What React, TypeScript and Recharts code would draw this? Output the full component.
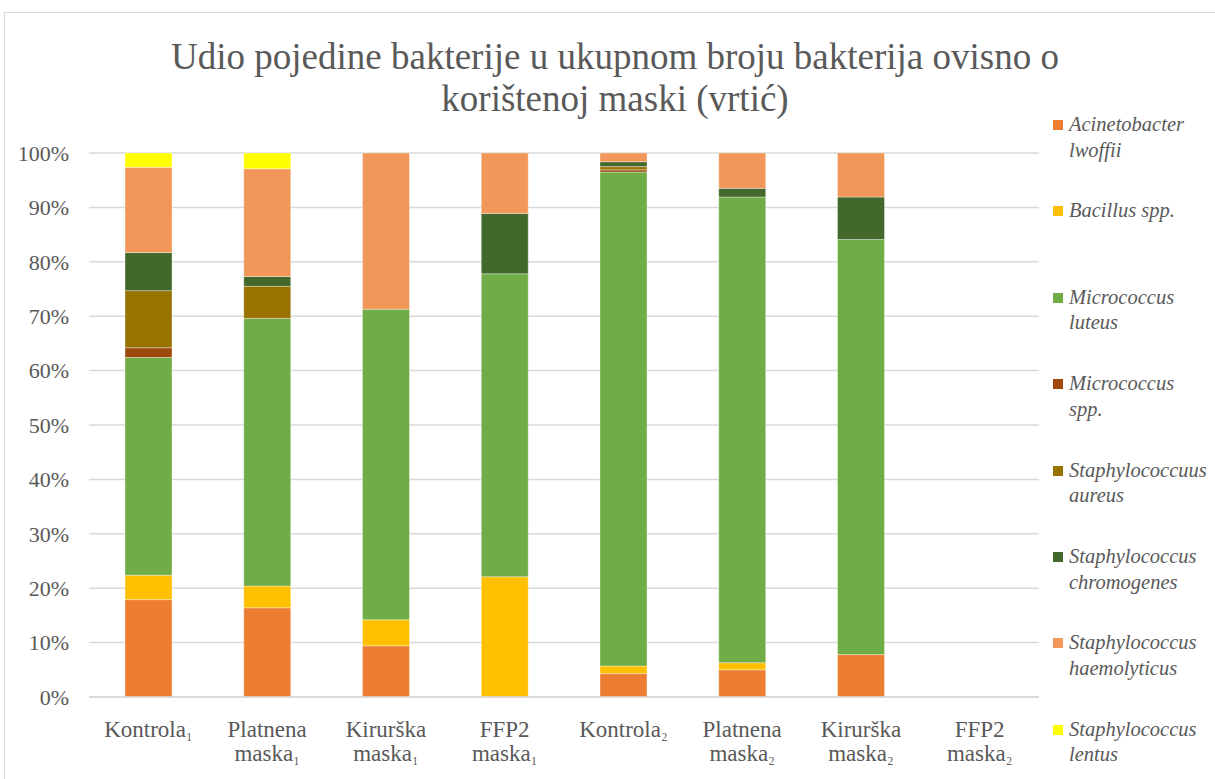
import { BarChart, Bar, XAxis, YAxis, CartesianGrid } from "recharts";

const categories = [
  "Kontrola₁",
  "Platnena maska₁",
  "Kirurška maska₁",
  "FFP2 maska₁",
  "Kontrola₂",
  "Platnena maska₂",
  "Kirurška maska₂",
  "FFP2 maska₂",
];

const acinetobacter = [17.9, 16.4, 9.4, 0, 4.3, 5.0, 7.8, 0];
const bacillus = [4.5, 4.0, 4.8, 22.1, 1.4, 1.3, 0, 0];
const microLuteus = [40.0, 49.2, 57.1, 55.7, 90.8, 85.6, 76.3, 0];
const microSpp = [1.8, 0, 0, 0, 0.4, 0, 0, 0];
const staphAureus = [10.5, 5.9, 0, 0, 0.6, 0, 0, 0];
const staphChromogenes = [7.0, 1.8, 0, 11.1, 0.9, 1.6, 7.8, 0];
const staphHaemolyticus = [15.7, 19.8, 28.7, 11.1, 1.6, 6.5, 8.1, 0];
const staphLentus = [2.6, 2.9, 0, 0, 0, 0, 0, 0];

const yTicks = [0, 10, 20, 30, 40, 50, 60, 70, 80, 90, 100];

const series = [
  { key: "acinetobacter", name: "Acinetobacter lwoffii", lines: ["Acinetobacter", "lwoffii"], color: "#ED7D31", values: acinetobacter },
  { key: "bacillus", name: "Bacillus spp.", lines: ["Bacillus spp."], color: "#FFC000", values: bacillus },
  { key: "microLuteus", name: "Micrococcus luteus", lines: ["Micrococcus", "luteus"], color: "#70AD47", values: microLuteus },
  { key: "microSpp", name: "Micrococcus spp.", lines: ["Micrococcus", "spp."], color: "#9E480E", values: microSpp },
  { key: "staphAureus", name: "Staphylococcuus aureus", lines: ["Staphylococcuus", "aureus"], color: "#997300", values: staphAureus },
  { key: "staphChromogenes", name: "Staphylococcus chromogenes", lines: ["Staphylococcus", "chromogenes"], color: "#43682B", values: staphChromogenes },
  { key: "staphHaemolyticus", name: "Staphylococcus haemolyticus", lines: ["Staphylococcus", "haemolyticus"], color: "#F1975A", values: staphHaemolyticus },
  { key: "staphLentus", name: "Staphylococcus lentus", lines: ["Staphylococcus", "lentus"], color: "#FFFF00", values: staphLentus },
];

const data = categories.map((name, i) => {
  const row: Record<string, string | number> = { name };
  series.forEach((s) => {
    row[s.key] = s.values[i];
  });
  return row;
});

const FONT = 'Liberation Serif, Tinos, "DejaVu Serif", serif';
const TEXT = "#595959";

// splits "Platnena maska₁" into lines, and draws the trailing subscript a bit smaller
const CategoryTick = (props: any) => {
  const { x, y, payload } = props;
  const label: string = payload.value;
  const idx = label.indexOf(" ");
  const parts = idx > 0 ? [label.slice(0, idx), label.slice(idx + 1)] : [label];
  return (
    <text x={x} y={y} textAnchor="middle" fill={TEXT} style={{ fontFamily: FONT }} fontSize={23}>
      {parts.map((p, i) => {
        const last = p.slice(-1);
        const isSub = last === "₁" || last === "₂";
        return (
          <tspan key={i} x={x} y={y + 32 + i * 24}>
            {isSub ? p.slice(0, -1) : p}
            {isSub && <tspan fontSize={19}>{last}</tspan>}
          </tspan>
        );
      })}
    </text>
  );
};

export default function App() {
  return (
    <div
      style={{
        position: "absolute",
        left: 0,
        top: 0,
        width: 1215,
        height: 779,
        overflow: "hidden",
        background: "#fff",
        fontFamily: FONT,
      }}
    >
      <div
        style={{
          position: "absolute",
          left: 4,
          top: 12,
          width: 1400,
          height: 1000,
          border: "1.5px solid #d9d9d9",
        }}
      />
      <div
        style={{
          position: "absolute",
          left: 0,
          top: 36,
          width: 1230,
          textAlign: "center",
          fontSize: 37,
          lineHeight: "42px",
          color: TEXT,
        }}
      >
        Udio pojedine bakterije u ukupnom broju bakterija ovisno o
        <br />
        korištenoj maski (vrtić)
      </div>

      <div style={{ position: "absolute", left: 0, top: 0 }}>
        <BarChart
          width={1215}
          height={779}
          data={data}
          margin={{ top: 153, right: 176, bottom: 0, left: 29 }}
        >
          <CartesianGrid vertical={false} stroke="#d9d9d9" strokeWidth={1.5} />
          <XAxis
            dataKey="name"
            axisLine={{ stroke: "#d9d9d9", strokeWidth: 1.5 }}
            tickLine={false}
            interval={0}
            tick={<CategoryTick />}
            height={82}
          />
          <YAxis
            width={60}
            domain={[0, 100]}
            ticks={yTicks}
            tickFormatter={(v) => `${v}%`}
            axisLine={false}
            tickLine={false}
            tickSize={0}
            tickMargin={20}
            tick={{ fill: TEXT, fontSize: 22, style: { fontFamily: FONT } }}
          />
          {series.map((s) => (
            <Bar
              key={s.key}
              dataKey={s.key}
              name={s.name}
              stackId="a"
              fill={s.color}
              barSize={47}
              stroke="#ffffff"
              strokeOpacity={0.35}
              strokeWidth={1}
              isAnimationActive={false}
            />
          ))}
        </BarChart>
      </div>

      {series.map((s, i) => (
        <div
          key={s.key}
          style={{
            position: "absolute",
            left: 1053,
            top: 112 + i * 86.4,
            display: "flex",
            alignItems: "flex-start",
          }}
        >
          <div
            style={{
              width: 10,
              height: 10,
              background: s.color,
              marginTop: 8,
              marginRight: 6,
              flexShrink: 0,
            }}
          />
          <div
            style={{
              fontStyle: "italic",
              fontSize: 20.5,
              lineHeight: "25.5px",
              color: TEXT,
              whiteSpace: "nowrap",
            }}
          >
            {s.lines.map((l, j) => (
              <div key={j}>{l}</div>
            ))}
          </div>
        </div>
      ))}
    </div>
  );
}
